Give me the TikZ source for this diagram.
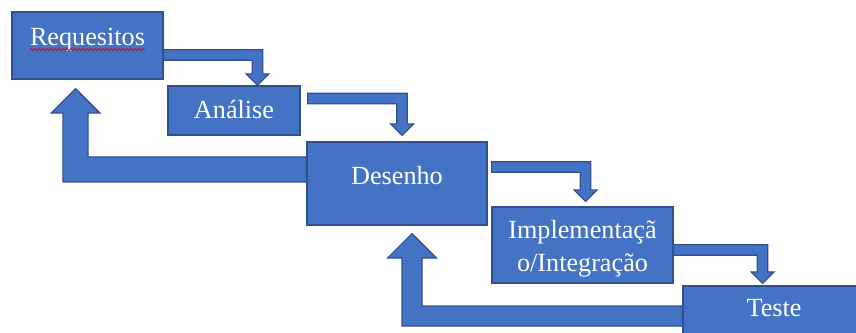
\documentclass[tikz,border=0pt]{standalone}
\usepackage{fontspec}
\setmainfont{Liberation Serif}
\usetikzlibrary{calc,backgrounds,decorations.pathmorphing}
\definecolor{boxfill}{HTML}{4472C4}
\definecolor{boxline}{HTML}{2F528F}

\begin{document}
\begin{tikzpicture}[x=1pt,y=1pt,
  every node/.style={font=\fontsize{26.2}{32}\selectfont, text=white},
  stage/.style={draw=boxline, fill=boxfill, line width=1.2pt, inner sep=0pt},
  fwd/.style={draw=boxline, fill=boxfill, line width=1.2pt, line join=miter,
    to path={let \p1=(\tikztostart), \p2=(\tikztotarget) in
      (\x1,\y1+5.25pt) -- (\x2+5.25pt,\y1+5.25pt) -- (\x2+5.25pt,\y2+11.5pt) -- (\x2+11.5pt,\y2+11.5pt)
      -- (\x2,\y2) -- (\x2-11.5pt,\y2+11.5pt) -- (\x2-5.25pt,\y2+11.5pt) -- (\x2-5.25pt,\y1-5.25pt)
      -- (\x1,\y1-5.25pt) -- cycle}},
  back/.style={draw=boxline, fill=boxfill, line width=1.2pt, line join=miter,
    to path={let \p1=(\tikztostart), \p2=(\tikztotarget) in
      (\x1,\y1+#1) -- (\x2+#1,\y1+#1) -- (\x2+#1,\y2-24.5pt) -- (\x2+24.5pt,\y2-24.5pt)
      -- (\x2,\y2) -- (\x2-24.5pt,\y2-24.5pt) -- (\x2-#1,\y2-24.5pt) -- (\x2-#1,\y1-#1)
      -- (\x1,\y1-#1) -- cycle}}]
\useasboundingbox (0,0) rectangle (856,332);
% stages
\node[stage, minimum width=151pt, minimum height=67pt] (req) at (87.5,286.5) {\smash{\raisebox{-0.5pt}{Requesitos}}};
\node[stage, minimum width=132pt, minimum height=49pt] (ana) at (234,221.5) {\smash{\raisebox{-7.8pt}{Análise}}};
\node[stage, minimum width=180pt, minimum height=83pt] (des) at (397,148.5) {\smash{\raisebox{-1.5pt}{Desenho}}};
\node[stage, minimum width=181pt, minimum height=76pt] (imp) at (582.5,87) {\smash{\raisebox{-26pt}{\begin{tabular}[b]{@{}c@{}}Implementaçã\\o/Integração\end{tabular}}}};
\node[stage, minimum width=182pt, minimum height=59pt] (tes) at (774,16.5) {\smash{\raisebox{-1.2pt}{Teste}}};
\draw[red, line width=0.8pt, decorate, decoration={snake, amplitude=1pt, segment length=4pt}]
  ($(req.center)+(-57.5,-4)$) -- ($(req.center)+(57.5,-4)$);
% arrows
\begin{scope}[on background layer]
\draw[fwd] ($(req.east)+(0,-9.5)$) to ($(ana.north)+(23.5,0)$);
\draw[fwd] ($(ana.east)+(7,12)$) to ($(des.north)+(5,6)$);
\draw[fwd] ($(des.east)+(4,16.5)$) to ($(imp.north)+(3,5)$);
\draw[fwd] ($(imp.east)+(0,-5)$) to ($(tes.north)+(-11.5,2)$);
\draw[back=12.5pt] ($(des.west)+(0,14)$) to ($(req.south)+(-12,-9)$);
\draw[back=10pt] ($(tes.west)+(0,-0.5)$) to ($(des.south)+(15,-8)$);
\end{scope}
\end{tikzpicture}
\end{document}
